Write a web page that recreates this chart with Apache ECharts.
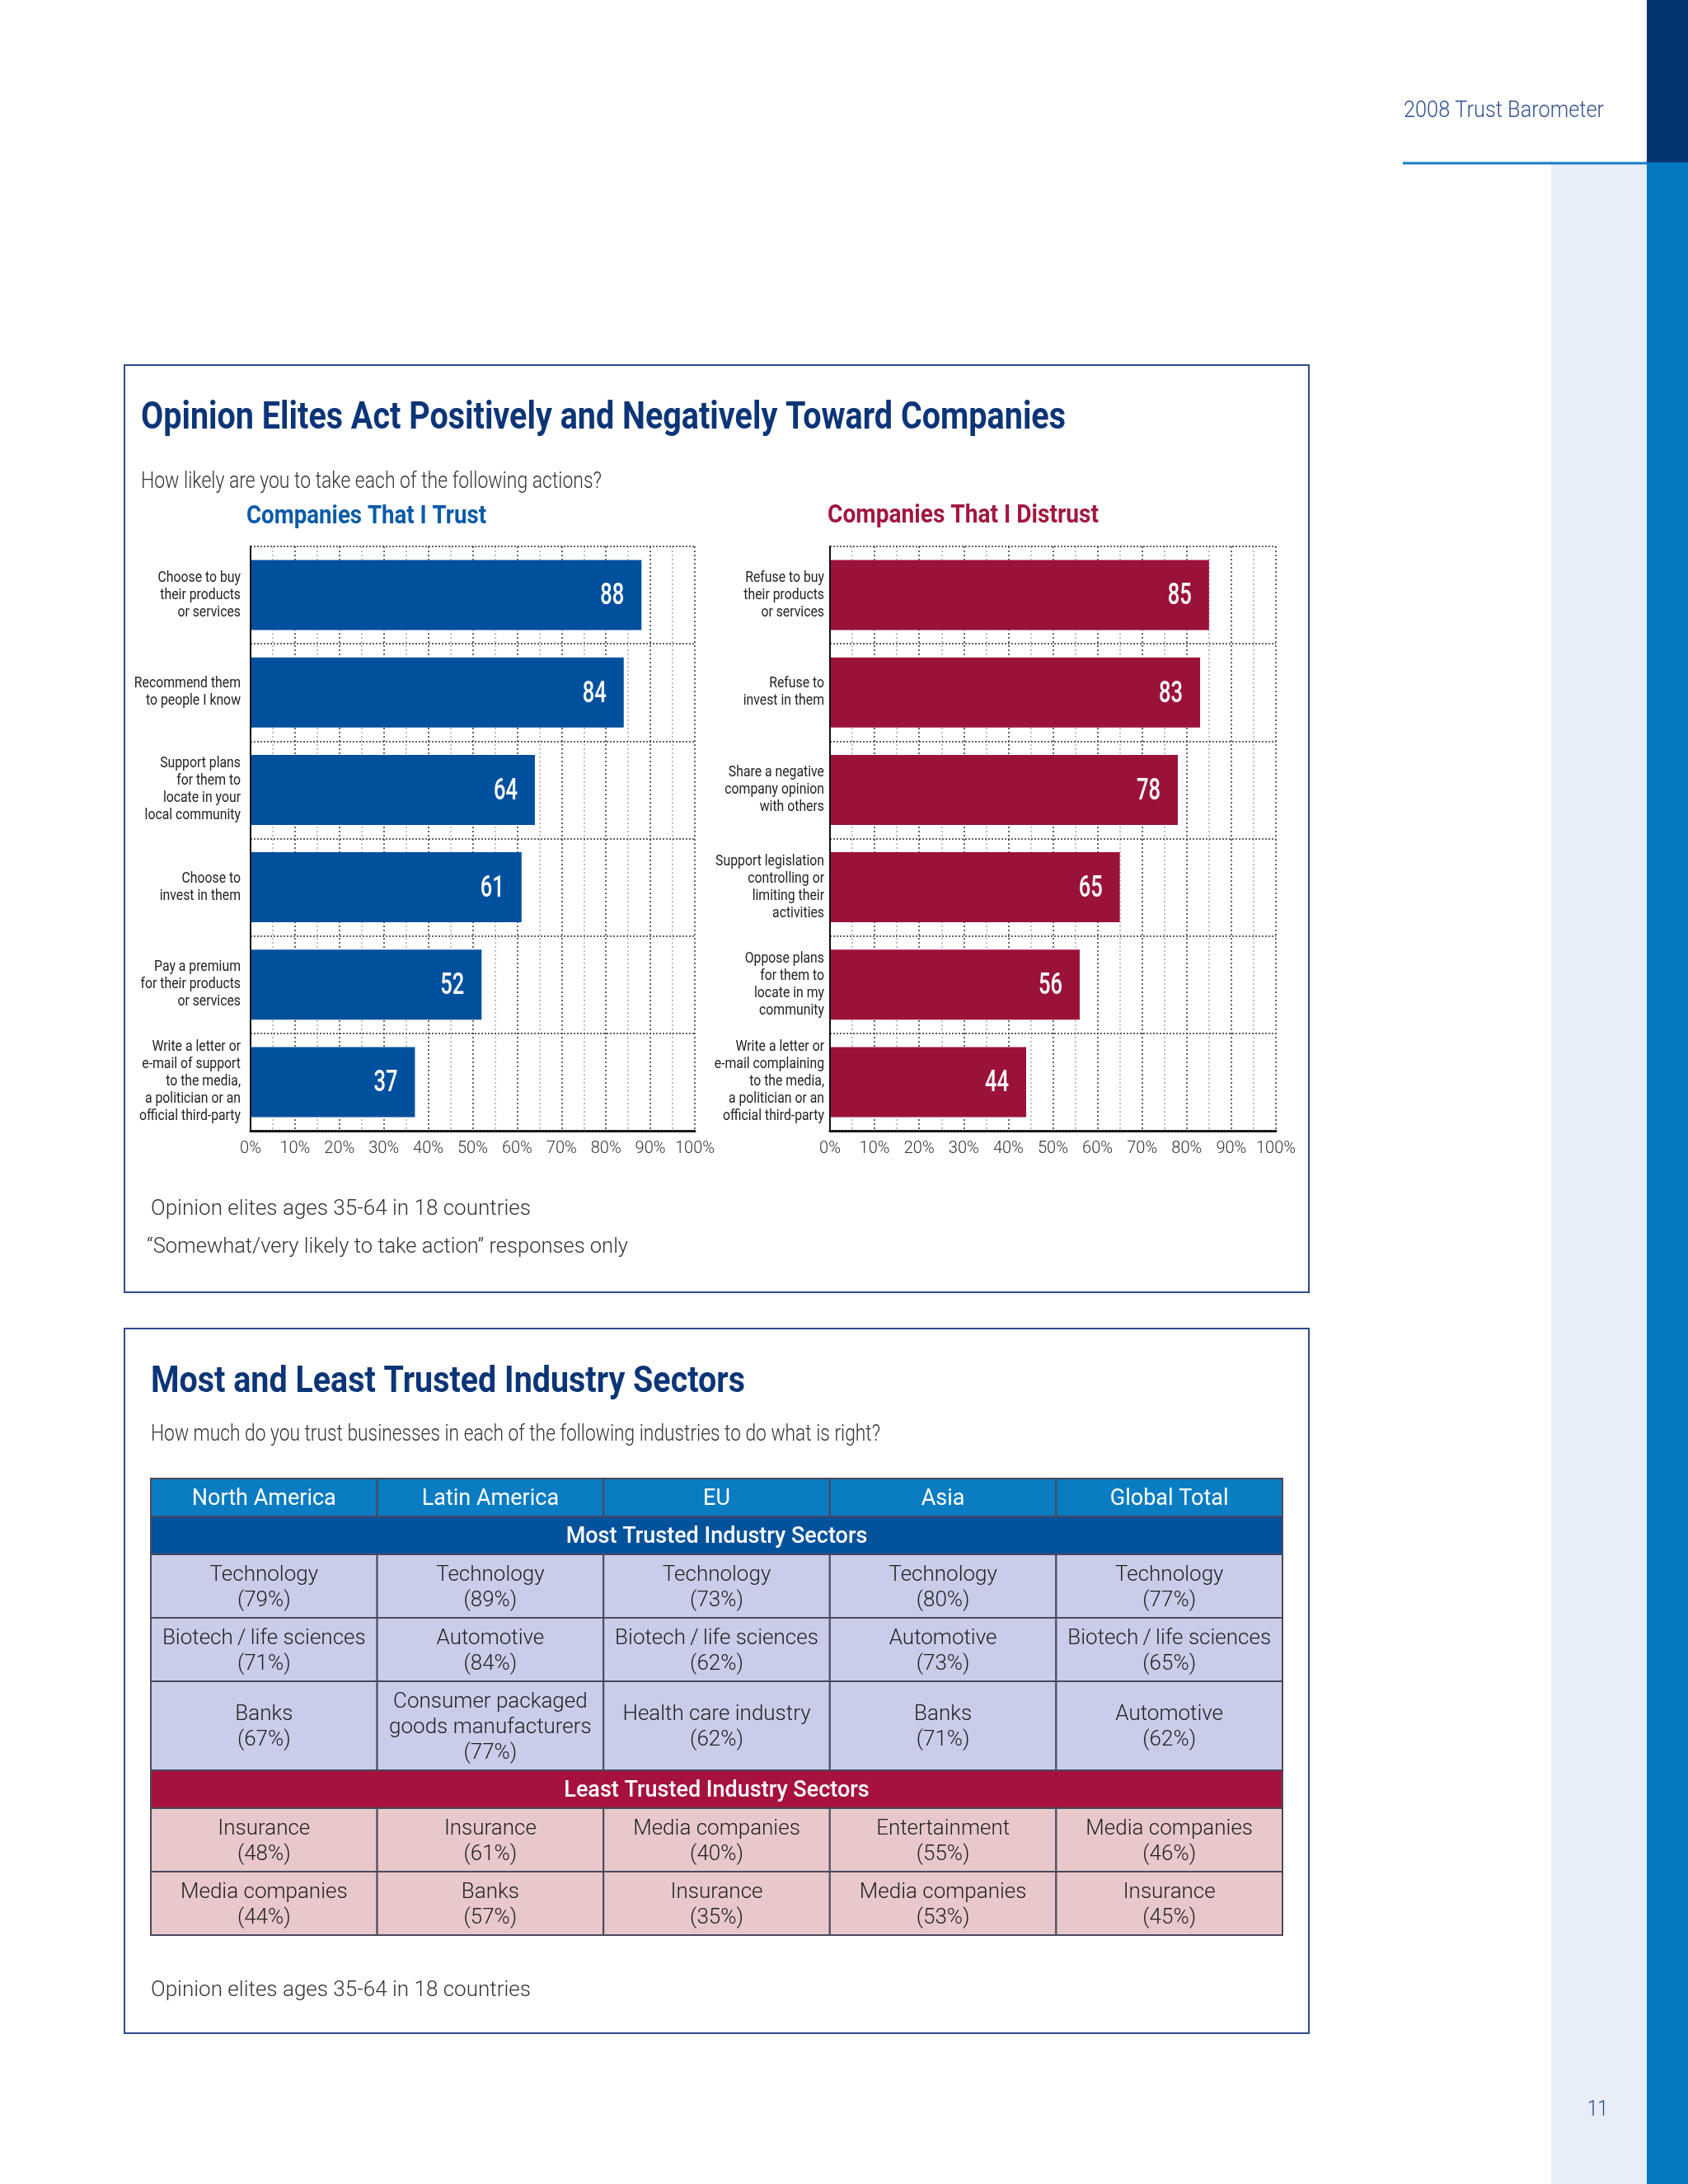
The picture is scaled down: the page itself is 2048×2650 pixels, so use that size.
<!DOCTYPE html>
<html>
<head>
<meta charset="utf-8">
<title>2008 Trust Barometer</title>
<script src="https://cdn.jsdelivr.net/npm/echarts@6/dist/echarts.min.js"></script>
<style>
html, body { margin: 0; padding: 0; background: #fff; }
#page { width: 2048px; height: 2650px; }
</style>
</head>
<body>
<div id="page"></div>
<script>
// ---- chart data ----
const trustLabels = [
  "Choose to buy\ntheir products\nor services",
  "Recommend them\nto people I know",
  "Support plans\nfor them to\nlocate in your\nlocal community",
  "Choose to\ninvest in them",
  "Pay a premium\nfor their products\nor services",
  "Write a letter or\ne-mail of support\nto the media,\na politician or an\nofficial third-party"
];
const trustValues = [88, 84, 64, 61, 52, 37];

const distrustLabels = [
  "Refuse to buy\ntheir products\nor services",
  "Refuse to\ninvest in them",
  "Share a negative\ncompany opinion\nwith others",
  "Support legislation\ncontrolling or\nlimiting their\nactivities",
  "Oppose plans\nfor them to\nlocate in my\ncommunity",
  "Write a letter or\ne-mail complaining\nto the media,\na politician or an\nofficial third-party"
];
const distrustValues = [85, 83, 78, 65, 56, 44];

// ---- table data ----
const regions = ["North America", "Latin America", "EU", "Asia", "Global Total"];
const mostTrustedSectors = [
  ["Technology", "Technology", "Technology", "Technology", "Technology"],
  ["Biotech\u2009/\u2009life sciences", "Automotive", "Biotech\u2009/\u2009life sciences", "Automotive", "Biotech\u2009/\u2009life sciences"],
  ["Banks", "Consumer packaged\ngoods manufacturers", "Health care industry", "Banks", "Automotive"]
];
const mostTrustedPct = [
  [79, 89, 73, 80, 77],
  [71, 84, 62, 73, 65],
  [67, 77, 62, 71, 62]
];
const leastTrustedSectors = [
  ["Insurance", "Insurance", "Media companies", "Entertainment", "Media companies"],
  ["Media companies", "Banks", "Insurance", "Media companies", "Insurance"]
];
const leastTrustedPct = [
  [48, 61, 40, 55, 46],
  [44, 57, 35, 53, 45]
];

// rows of the table, heights follow the number of text lines
const LINE_H = 31, ROW_PAD = 15;
const tableRows = [];
tableRows.push({ kind: "head", cells: regions });
tableRows.push({ kind: "band", tone: "blue", text: "Most Trusted Industry Sectors" });
mostTrustedSectors.forEach((row, r) => {
  tableRows.push({ kind: "cell", tone: "blue", cells: row.map((s, c) => s + "\n(" + mostTrustedPct[r][c] + "%)") });
});
tableRows.push({ kind: "band", tone: "red", text: "Least Trusted Industry Sectors" });
leastTrustedSectors.forEach((row, r) => {
  tableRows.push({ kind: "cell", tone: "red", cells: row.map((s, c) => s + "\n(" + leastTrustedPct[r][c] + "%)") });
});

let tableH = 0;
const tableData = [];
tableRows.forEach((row, r) => {
  const texts = row.cells || [row.text];
  const lines = Math.max.apply(null, texts.map(t => t.split("\n").length));
  const h = lines * LINE_H + ROW_PAD;
  if (row.kind === "band") {
    tableData.push([-1, tableH, tableH + h, r, -1]);
  } else {
    row.cells.forEach((t, c) => tableData.push([c, tableH, tableH + h, r, c]));
  }
  tableH += h;
});

const fills = {
  head: "#0a7cc2",
  band_blue: "#03529c",
  band_red: "#a6113e",
  cell_blue: "#c9cde9",
  cell_red: "#e8c8cb"
};

// squeeze text horizontally to the width it has on the page (condensed type)
const measure = document.createElement("canvas").getContext("2d");
function textWidth(text, size, weight) {
  measure.font = weight + " " + size + "px Roboto";
  return measure.measureText(text).width;
}
function squeezed(text, x, y, size, weight, color, width) {
  return {
    type: "text", x: x, y: y + 3, scaleX: width / textWidth(text, size, weight), z: 10,
    style: { text: text, fill: color, fontSize: size, fontWeight: weight, fontFamily: "Roboto", align: "left", verticalAlign: "middle" }
  };
}
// category labels are set in a condensed face: "official third-party" is ~123px wide
const LABEL_SCALE = 123 / textWidth("official third-party", 18, 400);
// bar values: "88" is ~29px wide
const VALUE_SCALE = 29 / textWidth("88", 37, 500);

function valueAxis(gridIndex) {
  return {
    gridIndex: gridIndex, type: "value", min: 0, max: 100, interval: 10,
    axisLine: { show: true, lineStyle: { color: "#111", width: 3 } },
    axisTick: { show: false },
    axisLabel: { formatter: "{value}%", color: "#333", fontSize: 20, fontFamily: "Roboto", fontWeight: 300, margin: 12 },
    splitLine: { show: true, lineStyle: { color: "#333", type: [2, 3], width: 1.5 } },
    minorTick: { show: false, splitNumber: 2 },
    minorSplitLine: { show: true, lineStyle: { color: "#aaa", type: [2, 3], width: 1.5 } }
  };
}
function categoryAxis(gridIndex, labels) {
  return {
    gridIndex: gridIndex, type: "category", data: labels, inverse: true, z: 3,
    axisLine: { show: true, lineStyle: { color: "#111", width: 2 } },
    axisTick: { show: false },
    axisLabel: { show: false },
    splitLine: { show: true, interval: 0, lineStyle: { color: "#333", type: [2, 2], width: 1.5 } }
  };
}
function barSeries(idx, values, color) {
  return {
    type: "bar", xAxisIndex: idx, yAxisIndex: idx, data: values,
    barCategoryGap: "28%",
    itemStyle: { color: color },
    silent: true
  };
}
// condensed category labels, placed on the category axis
function labelSeries(idx, labels, margin) {
  return {
    type: "custom", xAxisIndex: idx, yAxisIndex: idx, silent: true, z: 5,
    data: labels.map((l, i) => [0, i]),
    renderItem: function (params, api) {
      const p = api.coord([0, api.value(1)]);
      return {
        type: "text", x: p[0] - margin, y: p[1], scaleX: LABEL_SCALE,
        style: { text: labels[params.dataIndex], fill: "#222", fontSize: 18, fontFamily: "Roboto",
          lineHeight: 21, align: "right", verticalAlign: "middle" }
      };
    }
  };
}
// condensed white value labels at the inner end of each bar
function valueSeries(idx, values) {
  return {
    type: "custom", xAxisIndex: idx, yAxisIndex: idx, silent: true, z: 6,
    data: values.map((v, i) => [v, i]),
    renderItem: function (params, api) {
      const p = api.coord([api.value(0), api.value(1)]);
      return {
        type: "text", x: p[0] - 21, y: p[1] + 2, scaleX: VALUE_SCALE,
        style: { text: String(api.value(0)), fill: "#fff", fontSize: 37, fontWeight: 500, fontFamily: "Roboto",
          align: "right", verticalAlign: "middle" }
      };
    }
  };
}

const chart = echarts.init(document.getElementById("page"), null, { renderer: "canvas" });
chart.setOption({
  animation: false,
  backgroundColor: "#fff",
  grid: [
    { left: 304, top: 663, width: 539, height: 709, outerBoundsMode: "none" },
    { left: 1007, top: 663, width: 541, height: 709, outerBoundsMode: "none" },
    { left: 183, top: 1794, width: 1373, height: tableH, outerBoundsMode: "none" }
  ],
  xAxis: [
    valueAxis(0),
    valueAxis(1),
    { gridIndex: 2, type: "category", data: regions, show: false }
  ],
  yAxis: [
    categoryAxis(0, trustLabels),
    categoryAxis(1, distrustLabels),
    { gridIndex: 2, type: "value", min: 0, max: tableH, inverse: true, show: false }
  ],
  series: [
    barSeries(0, trustValues, "#00509e"),
    barSeries(1, distrustValues, "#9b1239"),
    labelSeries(0, trustLabels, 12),
    labelSeries(1, distrustLabels, 7),
    valueSeries(0, trustValues),
    valueSeries(1, distrustValues),
    {
      type: "custom", xAxisIndex: 2, yAxisIndex: 2, data: tableData, silent: true,
      renderItem: function (params, api) {
        const cs = params.coordSys;
        const c = api.value(0), r = api.value(3);
        const row = tableRows[r];
        const top = api.coord([0, api.value(1)])[1];
        const bottom = api.coord([0, api.value(2)])[1];
        let x, w;
        if (c < 0) { x = cs.x; w = cs.width; }
        else { w = api.size([1, 0])[0]; x = api.coord([c, 0])[0] - w / 2; }
        const key = row.kind === "head" ? "head" : row.kind + "_" + row.tone;
        const light = row.kind === "cell";
        const text = row.kind === "band" ? row.text : row.cells[c];
        return {
          type: "group",
          children: [
            { type: "rect", shape: { x: x, y: top, width: w, height: bottom - top },
              style: { fill: fills[key], stroke: "#4a4a5c", lineWidth: 2 } },
            { type: "text", x: x + w / 2, y: (top + bottom) / 2 + 2,
              style: { text: text, fill: light ? "#222" : "#fff", fontSize: light ? 26 : 27,
                fontWeight: light ? 300 : (row.kind === "band" ? 500 : 400), fontFamily: "Roboto",
                lineHeight: LINE_H, align: "center", verticalAlign: "middle" } }
          ]
        };
      }
    }
  ],
  graphic: {
    elements: [
      { type: "rect", shape: { x: 1882, y: 197, width: 116, height: 2453 }, style: { fill: "#e8eef8" } },
      { type: "rect", shape: { x: 1998, y: 0, width: 50, height: 197 }, style: { fill: "#02346f" } },
      { type: "rect", shape: { x: 1998, y: 197, width: 50, height: 2453 }, style: { fill: "#0479c1" } },
      { type: "line", shape: { x1: 1702, y1: 198, x2: 1998, y2: 198 }, style: { stroke: "#1a7cc4", lineWidth: 3 } },
      squeezed("2008 Trust Barometer", 1703, 132, 27, 300, "#32508f", 243),
      { type: "rect", shape: { x: 151, y: 443, width: 1437, height: 1125 }, style: { fill: null, stroke: "#2d4a8c", lineWidth: 2 } },
      { type: "rect", shape: { x: 151, y: 1612, width: 1437, height: 855 }, style: { fill: null, stroke: "#2d4a8c", lineWidth: 2 } },
      squeezed("Opinion Elites Act Positively and Negatively Toward Companies", 171, 505, 46, "bold", "#0c3577", 1122),
      squeezed("How likely are you to take each of the following actions?", 171, 582, 27, 300, "#333", 559),
      squeezed("Companies That I Trust", 299, 624, 31, "bold", "#0a5ba8", 291),
      squeezed("Companies That I Distrust", 1004, 623, 31, "bold", "#a1173f", 329),
      squeezed("Opinion elites ages 35-64 in 18 countries", 183, 1465, 25, 300, "#333", 461),
      squeezed("\u201cSomewhat/very likely to take action\u201d responses only", 178, 1511, 25, 300, "#333", 584),
      squeezed("Most and Least Trusted Industry Sectors", 183, 1675, 45, "bold", "#0c3577", 721),
      squeezed("How much do you trust businesses in each of the following industries to do what is right?", 183, 1738, 27, 300, "#333", 885),
      squeezed("Opinion elites ages 35-64 in 18 countries", 183, 2413, 25, 300, "#333", 461),
      squeezed("11", 1926, 2558, 25, 300, "#2b4a80", 25)
    ]
  }
});
</script>
</body>
</html>
